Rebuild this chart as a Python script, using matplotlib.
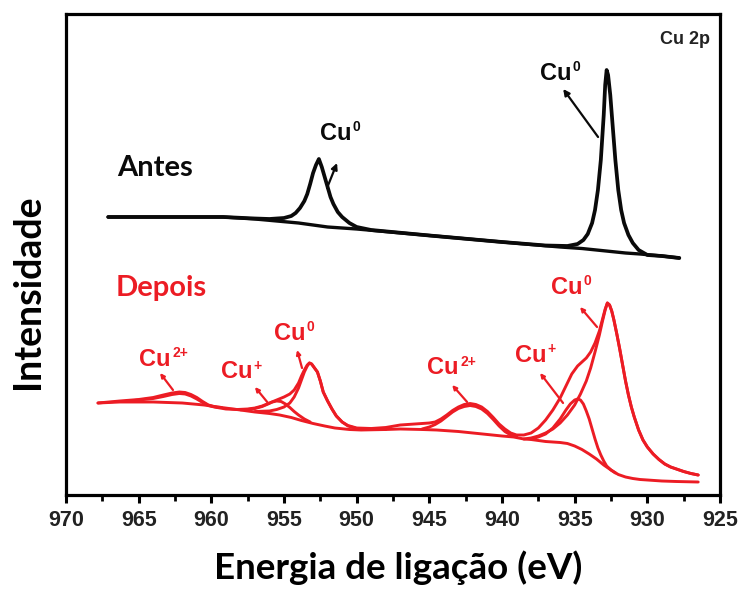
import matplotlib
matplotlib.use("Agg")
import matplotlib.pyplot as plt
from matplotlib.ticker import MultipleLocator

# ---- data (binding energy eV, intensity a.u.) ----
# "Antes" (black)
antes_bg_e = [967.1, 959.2, 957.0, 955.5, 954.0, 953.0, 952.0, 951.0, 950.0,
              945.0, 940.0, 936.0, 934.5, 933.5, 932.5, 931.5, 930.5, 929.0, 927.8]
antes_bg_i = [278, 278, 276, 274, 272, 270, 268, 267, 266,
              259.5, 253, 248, 246.5, 245, 243.5, 242, 241, 239, 237]

antes_env_e = [967.1, 959.2, 957.0, 956.0, 955.0, 954.5, 954.2, 953.9, 953.6, 953.4,
               953.2, 953.0, 952.8, 952.6, 952.4, 952.2, 952.0, 951.8, 951.6, 951.3,
               951.0, 950.5, 950.0, 949.0, 945.0, 940.0, 937.0, 935.5, 934.8, 934.4,
               934.1, 933.8, 933.6, 933.4, 933.2, 933.0, 932.9, 932.8, 932.7, 932.55,
               932.4, 932.2, 932.0, 931.8, 931.6, 931.3, 931.0, 930.6, 930.0, 929.0, 927.8]
antes_env_i = [278, 278, 276.5, 276, 277, 279, 282, 287, 294, 301,
               311, 322, 330, 336, 328, 318, 308, 298, 291, 283,
               278, 272, 268, 265, 259.5, 253, 249.5, 249, 251, 255,
               261, 272, 285, 305, 335, 380, 410, 425, 420, 400,
               372, 335, 305, 285, 272, 260, 252, 245, 240, 239, 237]

# "Depois" (red) envelope
dep_env_e = [967.8, 966.3, 965.0, 964.0, 963.3, 962.7, 962.2, 961.8, 961.4, 961.0,
             960.6, 960.2, 959.6, 959.0, 958.2, 957.5, 957.0, 956.5, 956.0, 955.5,
             955.0, 954.6, 954.3, 954.0, 953.8, 953.6, 953.4, 953.25, 953.1, 952.9,
             952.7, 952.5, 952.3, 952.0, 951.7, 951.4, 951.0, 950.6, 950.0, 949.0,
             948.0, 947.0, 946.0, 945.0, 944.6, 944.2, 943.8, 943.4, 943.0, 942.6,
             942.2, 941.8, 941.4, 941.0, 940.6, 940.2, 939.8, 939.4, 939.0, 938.5,
             938.0, 937.5, 937.0, 936.5, 936.0, 935.6, 935.2, 934.8, 934.5, 934.2,
             933.9, 933.6, 933.3, 933.1, 932.9, 932.75, 932.6, 932.45, 932.3, 932.1,
             931.9, 931.7, 931.5, 931.3, 931.1, 930.9, 930.6, 930.3, 930.0, 929.6,
             929.2, 928.8, 928.4, 928.0, 927.5, 927.0, 926.5]
dep_env_i = [92, 94, 95.5, 97.5, 100, 102, 103, 102.5, 100.5, 97.5,
             93.5, 90, 87.5, 86, 85.5, 86, 87, 89, 92, 95,
             98, 101, 105, 112, 119, 125, 130, 132, 131, 127,
             123, 114, 103, 94, 86, 79, 73, 69.5, 67, 66.5,
             67.5, 70, 71, 72, 73, 76, 80, 84.5, 88, 90.5,
             91.5, 90.5, 88, 83.5, 77.5, 71, 66, 62, 60, 60,
             62, 67, 75, 85, 97, 109, 121, 129, 133, 137,
             143, 152, 164, 175, 186, 192, 190, 184, 175, 161,
             146, 130, 114, 100, 88, 78, 65, 55, 48, 41,
             35.5, 31, 28, 26, 23.5, 21.5, 20]

# Shirley background
dep_bg_e = [967.8, 966.3, 964.0, 962.0, 960.5, 959.3, 958.0, 957.0, 956.0, 955.3,
            954.5, 953.8, 953.0, 952.2, 951.5, 950.5, 949.7, 948.0, 947.0, 945.5,
            944.5, 943.0, 942.0, 941.0, 940.0, 939.2, 938.5, 938.0, 937.0, 936.0,
            935.5, 935.0, 934.5, 934.0, 933.5, 933.0, 932.5, 932.0, 931.5, 931.0,
            930.5, 930.0, 929.0, 928.0, 926.5]
dep_bg_i = [92, 93, 93, 92, 90, 87.5, 85, 83, 81.5, 80,
            77.5, 74.5, 71.5, 69, 67, 65.5, 65, 65.5, 66, 65.5,
            65, 63.5, 62, 60.5, 59, 58, 56, 55.5, 53.5, 52.5,
            51.5, 49, 45.5, 41, 36, 30, 25, 20.5, 18, 16.5,
            15.5, 15, 14, 13.5, 13]

# Cu2+ satellite components
sat1_e = [966.0, 965.0, 964.0, 963.3, 962.7, 962.2, 961.8, 961.4, 961.0, 960.6,
          960.2, 959.8, 959.3]
sat1_i = [93.5, 95, 96.5, 98.5, 100.5, 101.5, 101, 99, 96, 92.5,
          89.5, 88, 87.5]
sat2_e = [945.5, 945.0, 944.6, 944.2, 943.8, 943.4, 943.0, 942.6, 942.2, 941.8,
          941.4, 941.0, 940.6, 940.2, 939.8, 939.4, 939.0]
sat2_i = [66, 68, 70.5, 74, 78.5, 83, 86.5, 88.5, 89.5, 88.5,
          86, 81.5, 75.5, 69, 63.5, 60, 58.5]

# Cu+ components
cup1_e = [958.0, 957.5, 957.0, 956.5, 956.1, 955.8, 955.5, 955.2, 954.9, 954.6,
          954.3, 954.0, 953.6, 953.2]
cup1_i = [85.2, 85.5, 86.5, 88.5, 91, 93, 94, 93.5, 91, 87.5,
          83.5, 80, 76, 73]
cup2_e = [938.0, 937.5, 937.0, 936.5, 936.0, 935.6, 935.3, 935.0, 934.8, 934.6,
          934.4, 934.2, 934.0, 933.8, 933.6, 933.4, 933.2, 933.0, 932.8, 932.5, 932.2]
cup2_i = [56, 58, 61, 67, 76, 85, 91, 95, 96, 95,
          91, 84, 76, 66, 56, 47, 40, 34, 29, 25, 22]

# Cu0 components
cu01_e = [957.0, 956.0, 955.5, 955.0, 954.6, 954.3, 954.0, 953.8, 953.6, 953.4,
          953.25, 953.1, 952.9, 952.7, 952.5, 952.3, 952.0, 951.7, 951.4, 951.0,
          950.6, 950.0, 949.0, 948.0]
cu01_i = [83.5, 84, 85.5, 88, 92, 98, 107, 115, 123, 129,
          132, 131, 127, 123, 114, 103, 94, 86, 79, 73,
          69, 66.5, 65.5, 65.5]
cu02_e = [938.5, 938.0, 937.5, 937.0, 936.5, 936.0, 935.5, 935.0, 934.6, 934.2,
          933.9, 933.6, 933.3, 933.1, 932.9, 932.75, 932.6, 932.45, 932.3, 932.1,
          931.9, 931.7, 931.5, 931.3, 931.1, 930.9, 930.6, 930.3, 930.0, 929.6,
          929.2, 928.8, 928.4, 928.0, 927.5, 927.0, 926.5]
cu02_i = [56, 57, 59, 62, 66, 72, 80, 90, 101, 114,
          127, 143, 160, 173, 185, 192, 190, 184, 175, 161,
          146, 130, 114, 100, 88, 78, 65, 55, 48, 41,
          35.5, 31, 28, 26, 23.5, 21.5, 20]

xticks = [970, 965, 960, 955, 950, 945, 940, 935, 930, 925]

RED = "#ec1c24"
BLK = "#0a0a0a"

fig = plt.figure(figsize=(7.41, 5.89), dpi=100)
ax = fig.add_axes([66 / 741, 94 / 589, 654 / 741, 481 / 589])

ax.plot(antes_bg_e, antes_bg_i, color=BLK, lw=2.4, solid_capstyle="round")
ax.plot(antes_env_e, antes_env_i, color=BLK, lw=2.7, solid_capstyle="round",
        solid_joinstyle="round")

for e, i in [(dep_bg_e, dep_bg_i), (sat1_e, sat1_i), (sat2_e, sat2_i),
             (cup1_e, cup1_i), (cup2_e, cup2_i), (cu01_e, cu01_i),
             (cu02_e, cu02_i), (dep_env_e, dep_env_i)]:
    ax.plot(e, i, color=RED, lw=2.1, solid_capstyle="round", solid_joinstyle="round")

ax.set_xlim(970, 925)
ax.set_ylim(0, 481)
ax.set_xticks(xticks)
ax.xaxis.set_minor_locator(MultipleLocator(2.5))
ax.set_yticks([])
for s in ax.spines.values():
    s.set_linewidth(2.3)
ax.tick_params(axis="x", which="major", direction="out", length=6, width=2.2,
               pad=5, labelsize=15.5)
ax.tick_params(axis="x", which="minor", direction="out", length=4, width=2.0)
for lab in ax.get_xticklabels():
    lab.set_fontfamily("Liberation Sans")
    lab.set_fontweight("bold")
    lab.set_color("#222222")

ax.set_xlabel("Energia de ligação (eV)", fontfamily="Lato", fontweight="bold",
              fontsize=26.5, va="center")
ax.xaxis.set_label_coords(0.508, -0.152)
ax.set_ylabel("Intensidade", fontfamily="Lato", fontweight="bold",
              fontsize=27, va="center")
ax.yaxis.set_label_coords(-0.058, 0.422)

ax.text(966.5, 327, "Antes", fontfamily="Lato", fontweight="bold", fontsize=21,
        color=BLK, ha="left", va="center")
ax.text(966.6, 207, "Depois", fontfamily="Lato", fontweight="bold", fontsize=21,
        color=RED, ha="left", va="center")
ax.text(925.7, 456, "Cu 2p", fontfamily="Liberation Sans", fontweight="bold",
        fontsize=13, color="#222222", ha="right", va="center")


def label(cx, cy, sup, color, tail, head, hs):
    ax.text(cx, cy, "Cu", fontfamily="Liberation Sans", fontweight="bold",
            fontsize=17, color=color, ha="center", va="center")
    dx = 14.5 if len(sup) == 1 else 18
    ax.annotate(sup, xy=(cx, cy), xytext=(dx, 4.5), textcoords="offset points",
                fontfamily="Liberation Sans", fontweight="bold", fontsize=10,
                color=color, ha="center", va="center")
    ax.annotate("", xy=head, xytext=tail,
                arrowprops=dict(arrowstyle="-|>", color=color, lw=1.6,
                                mutation_scale=hs, shrinkA=0, shrinkB=0))


label(951.42, 362, "0", BLK, (952.04, 307), (951.35, 332), 9)
label(936.28, 422, "0", BLK, (933.39, 358), (935.79, 406), 9)

label(963.87, 136, "2+", RED, (962.64, 105), (963.53, 122), 6)
label(958.23, 123, "+", RED, (956.1, 92), (957.0, 108), 6)
label(954.58, 162, "0", RED, (953.76, 127), (954.1, 145), 6)
label(944.05, 127, "2+", RED, (942.4, 93), (943.43, 110), 6)
label(938.0, 140, "+", RED, (935.8, 92), (937.38, 122), 6)
label(935.52, 208, "0", RED, (933.46, 168), (934.63, 188), 6)

fig.savefig("out.png", dpi=100)
